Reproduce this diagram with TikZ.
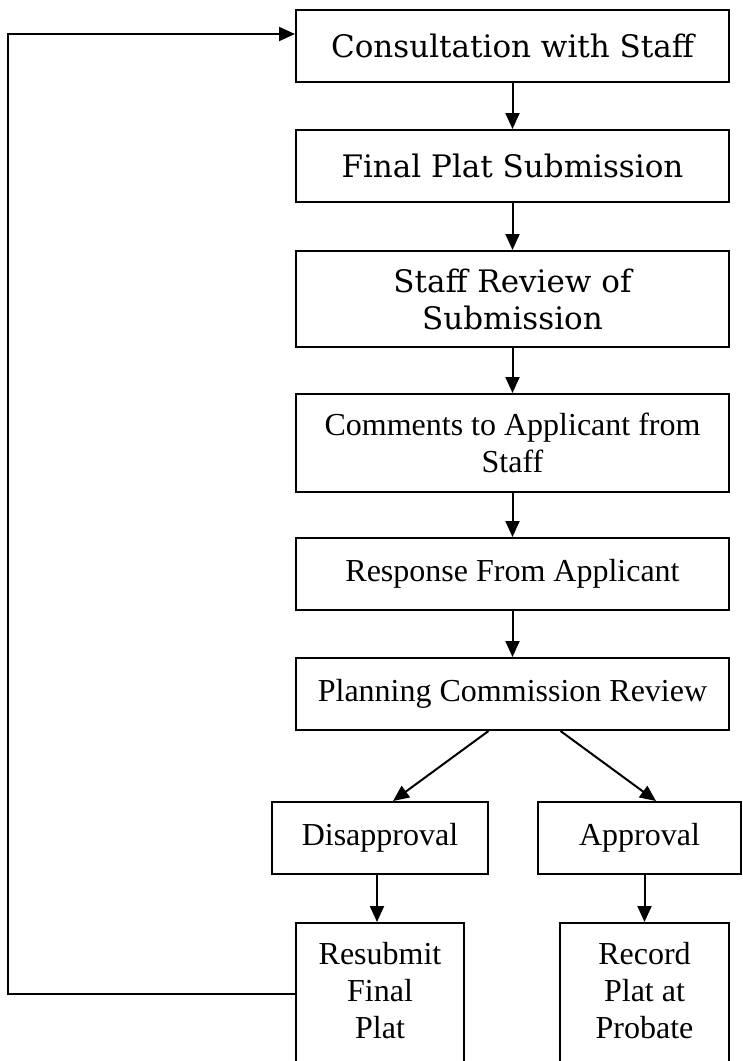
\documentclass[tikz,border=0pt]{standalone}
\usepackage{fontspec}
\setmainfont{Liberation Serif}
\newfontfamily\schoolfont{DejaVu Serif}
\usetikzlibrary{arrows.meta}

\begin{document}
\begin{tikzpicture}[x=1pt,y=-1pt,
  stage/.style={draw, line width=2pt, minimum width=433pt, minimum height=72pt,
                inner sep=0pt, align=center, font=\fontsize{32}{37}\selectfont},
  wide/.style={font=\schoolfont\fontsize{31}{37}\selectfont},
  flow/.style={-{Triangle[length=16pt,width=14pt]}, line width=2pt}]
\path[use as bounding box] (0,0) rectangle (743,1061);
\clip (0,0) rectangle (743,1061);

\node[stage,wide] (cons) at (512.5,46){Consultation with Staff};
\node[stage,wide] (final) at (512.5,166){Final Plat Submission};
\node[stage,wide,minimum height=96pt] (review) at (512.5,299){Staff Review of\\Submission};
\node[stage,minimum height=98pt] (comments) at (512.5,443){Comments to Applicant from\\Staff};
\node[stage] (response) at (512.5,574){Response From Applicant};
\node[stage] (planning) at (512.5,694){Planning Commission Review};

\node[stage,minimum width=216pt] (disapp) at (380,838){Disapproval};
\node[stage,minimum width=203pt] (approv) at (639.5,838){Approval};

% tall boxes run off the bottom edge
\node[stage,minimum width=168pt,minimum height=0pt,inner ysep=19pt,anchor=north] (resub) at (380,922)
  {\parbox[t][150pt][t]{160pt}{\centering Resubmit\\Final\\Plat}};
\node[stage,minimum width=169pt,minimum height=0pt,inner ysep=19pt,anchor=north] (record) at (644.5,922)
  {\parbox[t][150pt][t]{160pt}{\centering Record\\Plat at\\Probate}};

\draw[flow] (cons) -- (final);
\draw[flow] (final) -- (review);
\draw[flow] (review) -- (comments);
\draw[flow] (comments) -- (response);
\draw[flow] (response) -- (planning);
\draw[flow] ([xshift=-24pt]planning.south) -- ([xshift=13pt]disapp.north);
\draw[flow] ([xshift=48pt]planning.south) -- ([xshift=16.5pt]approv.north);
\draw[flow] ([xshift=-3pt]disapp.south) -- ([xshift=-3pt]resub.north);
\draw[flow] ([xshift=5pt]approv.south) -- (record.north);

\coordinate (loop) at (8,994);
\draw[flow] (resub.west |- loop) -- (loop) |- ([yshift=12pt]cons.west);
\end{tikzpicture}
\end{document}
